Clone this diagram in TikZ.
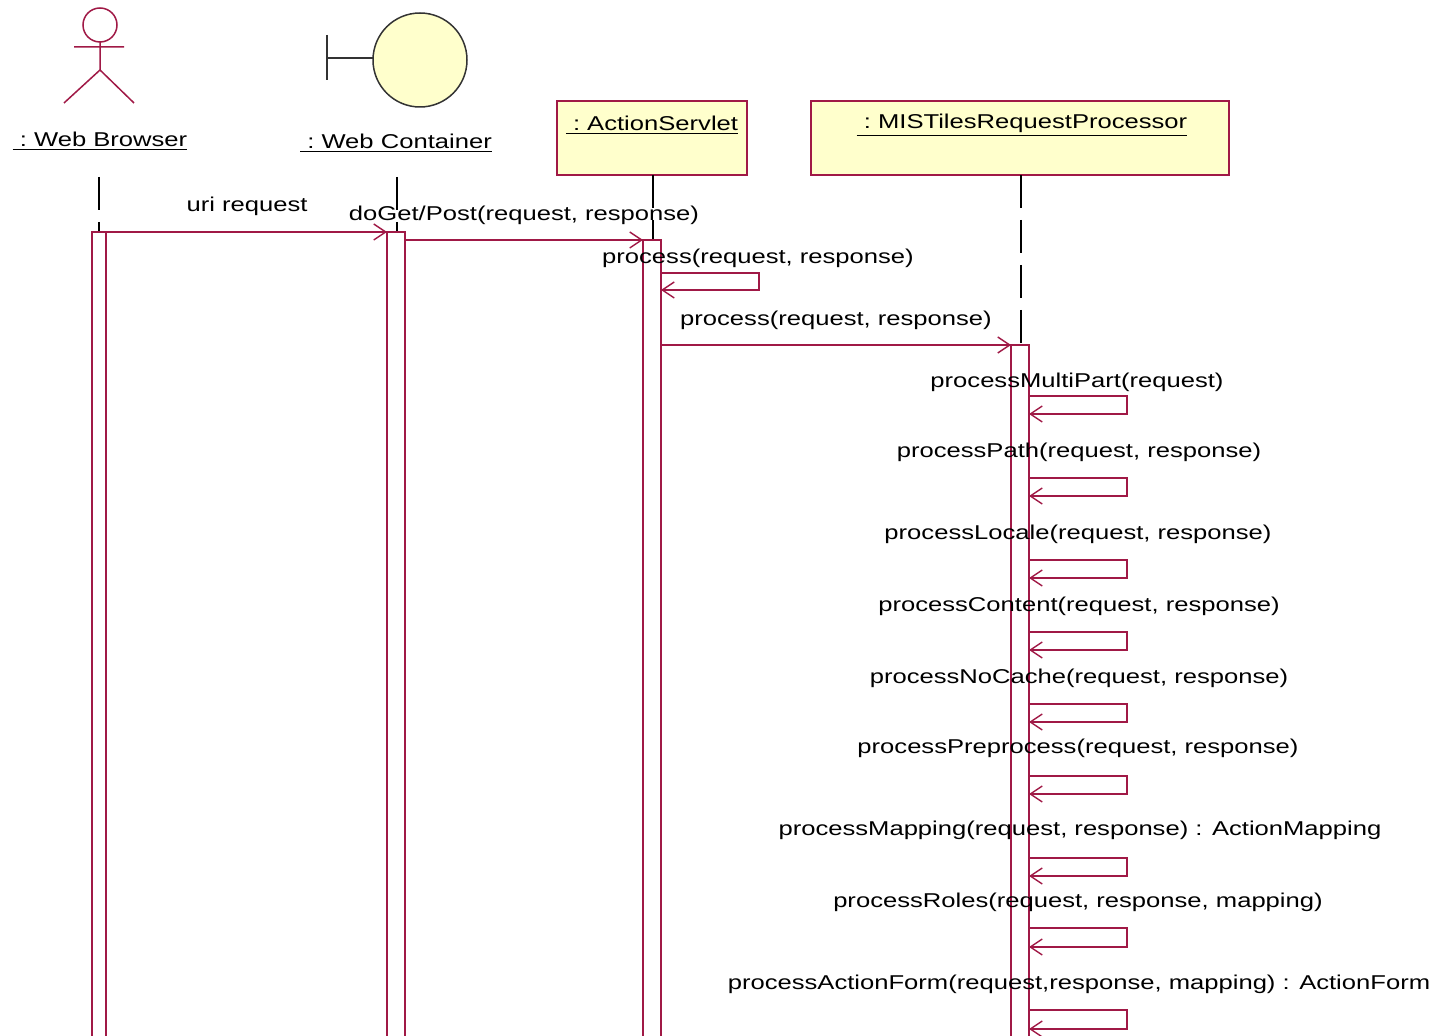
\documentclass[tikz,border=0pt]{standalone}
\usepackage{fontspec}
\setmainfont{Liberation Sans}[FakeStretch=1.28]
\usetikzlibrary{arrows.meta}
\definecolor{umlred}{RGB}{160,25,70}
\definecolor{umlyellow}{RGB}{255,255,204}
\begin{document}
\begin{tikzpicture}[x=0.5pt,y=-0.5pt,
  lbl/.style={font=\fontsize{10}{12}\selectfont, inner sep=0pt, anchor=center, text=black},
  msg/.style={draw=umlred, line width=0.75pt, -{Straight Barb[length=6pt,width=8pt,line width=0.7pt]}},
  act/.style={draw=umlred, fill=white, line width=0.9pt},
  life/.style={draw=black, line width=0.7pt, dash pattern=on 16.5pt off 6pt},
  objbox/.style={draw=umlred, fill=umlyellow, line width=0.9pt, inner sep=0pt}]
\useasboundingbox (0,0) rectangle (1441,1036);
\clip (0,0) rectangle (1441,1036);
\fill[white] (0,0) rectangle (1441,1036);

% actor
\draw[umlred, line width=0.75pt] (100,25) circle (8.5pt);
\draw[umlred, line width=0.75pt] (74,47) -- (124,47) (100,42) -- (100,70) (64,103) -- (100,70) -- (134,103);
\node[lbl] (wbname) at (100,141) {\underline{~:~Web Browser}};

% boundary
\draw[black!80, line width=0.75pt] (327,35) -- (327,80) (327,58) -- (373,58);
\draw[black!80, fill=umlyellow, line width=0.75pt] (420,60) circle (23.5pt);
\node[lbl] (wcname) at (396,143) {\underline{~:~Web Container}};

% object boxes
\node[objbox, minimum width=95pt, minimum height=37pt] (asbox) at (652,138) {};
\node[lbl] (asname) at (652,125) {\underline{~:~ActionServlet}};
\node[objbox, minimum width=209pt, minimum height=37pt] (misbox) at (1020,138) {};
\node[lbl] (misname) at (1022,125) {\underline{~:~MISTilesRequestProcessor}};

% lifelines
\coordinate (wbtop) at (99,177);
\coordinate (wctop) at (397,177);
\coordinate (astop) at (653,175);
\coordinate (mistop) at (1021,175);
\draw[life] (wbtop) -- (99,232);
\draw[life] (wctop) -- (397,232);
\draw[life] (astop) -- (653,240);
\draw[life] (mistop) -- (1021,345);

% activations
\draw[act] (92,232) rectangle (106,1045);
\draw[act] (387,232) rectangle (405,1045);
\draw[act] (643,240) rectangle (661,1045);
\draw[act] (1011,345) rectangle (1029,1045);

% messages
\coordinate (m1a) at (106,232); \coordinate (m1b) at (387,232);
\draw[msg] (m1a) -- (m1b);
\node[lbl] (m1l) at (247,206) {uri request};

\coordinate (m2a) at (405,240); \coordinate (m2b) at (643,240);
\draw[msg] (m2a) -- (m2b);
\node[lbl] (m2l) at (524,215) {doGet/Post(request, response)};

\coordinate (m3a) at (661,273); \coordinate (m3b) at (661,290);
\draw[msg] (m3a) -- (759,273) |- (m3b);
\node[lbl] (m3l) at (758,258) {process(request, response)};

\coordinate (m4a) at (661,345); \coordinate (m4b) at (1011,345);
\draw[msg] (m4a) -- (m4b);
\node[lbl] (m4l) at (836,320) {process(request, response)};

% self messages on MISTilesRequestProcessor
\foreach \ly/\ty/\by/\lx/\txt [count=\i] in {
  382/396/414/1077/{processMultiPart(request)},
  452/478/496/1079/{processPath(request, response)},
  534/560/578/1078/{processLocale(request, response)},
  606/632/650/1079/{processContent(request, response)},
  678/704/722/1079/{processNoCache(request, response)},
  748/776/794/1078/{processPreprocess(request, response)},
  830/858/876/1080/{processMapping(request, response) : ActionMapping},
  902/928/947/1078/{processRoles(request, response, mapping)},
  984/1010/1029/1079/{processActionForm(request,response, mapping) : ActionForm}} {
  \coordinate (s\i a) at (1029,\ty);
  \coordinate (s\i b) at (1029,\by);
  \draw[msg] (s\i a) -- (1127,\ty) |- (s\i b);
  \node[lbl] (s\i l) at (\lx,\ly) {\txt};
}
\end{tikzpicture}
\end{document}
